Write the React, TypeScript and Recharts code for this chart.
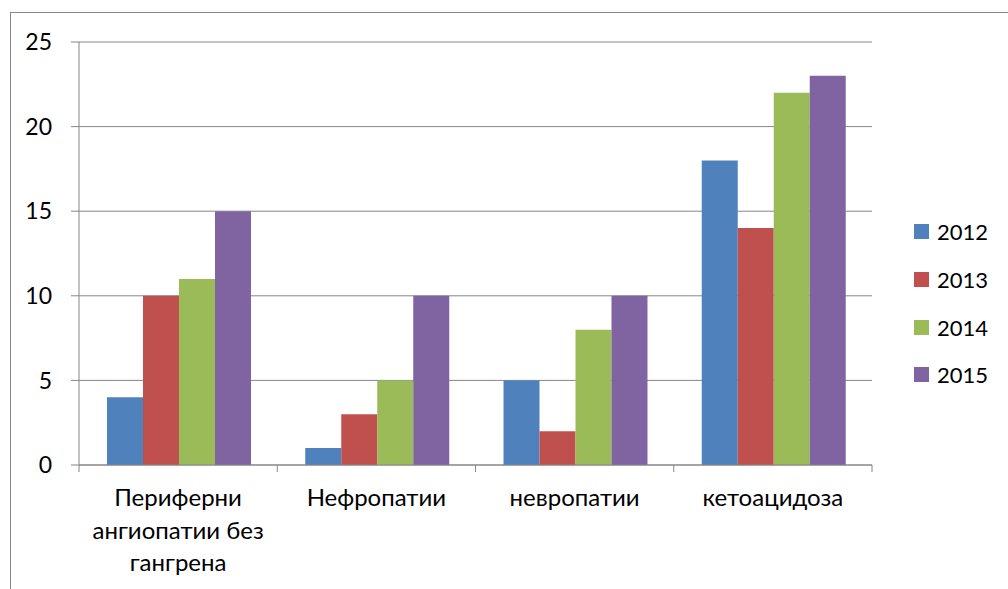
import React from "react";
import { BarChart, Bar, XAxis, YAxis, CartesianGrid, Legend } from "recharts";

const categories = [
  "Периферни\nангиопатии без\nгангрена",
  "Нефропатии",
  "невропатии",
  "кетоацидоза",
];
const series2012 = [4, 1, 5, 18];
const series2013 = [10, 3, 2, 14];
const series2014 = [11, 5, 8, 22];
const series2015 = [15, 10, 10, 23];
const yTicks = [0, 5, 10, 15, 20, 25];
const seriesNames = ["2012", "2013", "2014", "2015"];
const seriesColors = ["#4F81BD", "#C0504D", "#9BBB59", "#8064A2"];

const data = categories.map((c, i) => ({
  name: c,
  "2012": series2012[i],
  "2013": series2013[i],
  "2014": series2014[i],
  "2015": series2015[i],
}));

const FONT = "Lato, 'Open Sans', sans-serif";
const AXIS = "#868686";

const XTick = (props: any) => {
  const { x, y, payload, index } = props;
  const off = payload.offset || 0;
  const lines = String(payload.value).split("\n");
  return (
    <g>
      <line x1={x - off} y1={y} x2={x - off} y2={y + 7} stroke={AXIS} strokeWidth={1} />
      {index === categories.length - 1 && (
        <line x1={x + off} y1={y} x2={x + off} y2={y + 7} stroke={AXIS} strokeWidth={1} />
      )}
      <text x={x} y={y} textAnchor="middle" fontFamily={FONT} fontSize={24} fill="#000">
        {lines.map((l, i) => (
          <tspan key={i} x={x} y={y + 41 + i * 32.5}>
            {l}
          </tspan>
        ))}
      </text>
    </g>
  );
};

const LegendContent = () => (
  <div style={{ fontFamily: FONT, fontSize: 22, color: "#000" }}>
    {seriesNames.map((n, i) => (
      <div key={n} style={{ display: "flex", alignItems: "center", height: 47.7 }}>
        <div style={{ width: 15, height: 15, background: seriesColors[i], marginRight: 8 }} />
        <span>{n}</span>
      </div>
    ))}
  </div>
);

export default function App() {
  return (
    <div style={{ position: "absolute", left: 0, top: 0, width: 1008, height: 589, overflow: "hidden", background: "#fff" }}>
      <div
        style={{
          position: "absolute",
          left: 10,
          top: 12,
          width: 1200,
          height: 800,
          border: "1px solid #888",
          boxSizing: "border-box",
        }}
      />
      <div style={{ position: "absolute", left: 0, top: 0 }}>
        <BarChart
          width={1008}
          height={589}
          data={data}
          margin={{ top: 42, right: 46, bottom: 0, left: 29 }}
          barCategoryGap={28}
          barGap={0}
        >
          <CartesianGrid vertical={false} stroke={AXIS} strokeWidth={1} />
          <XAxis
            dataKey="name"
            height={124}
            tickSize={0}
            tickMargin={0}
            tick={<XTick />}
            axisLine={{ stroke: AXIS, strokeWidth: 1 }}
            tickLine={false}
            interval={0}
          />
          <YAxis
            width={50}
            domain={[0, 25]}
            ticks={yTicks}
            tickSize={8}
            tickMargin={19}
            axisLine={{ stroke: AXIS, strokeWidth: 1 }}
            tickLine={{ stroke: AXIS, strokeWidth: 1 }}
            tick={{ fill: "#000", fontSize: 23, fontFamily: FONT }}
          />
          <Legend
            layout="vertical"
            align="right"
            verticalAlign="top"
            content={<LegendContent />}
            wrapperStyle={{ left: 914, top: 208, width: 90 }}
          />
          {seriesNames.map((n, i) => (
            <Bar key={n} dataKey={n} fill={seriesColors[i]} isAnimationActive={false} />
          ))}
        </BarChart>
      </div>
    </div>
  );
}
